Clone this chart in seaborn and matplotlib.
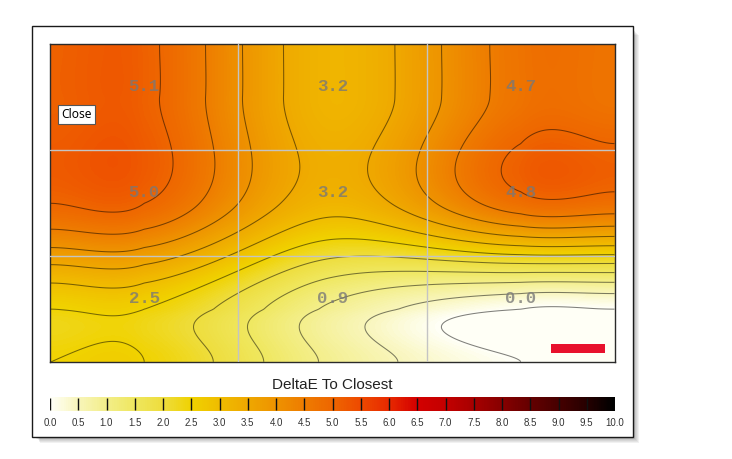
import numpy as np
import pandas as pd
import matplotlib
matplotlib.use("Agg")
import matplotlib.pyplot as plt
import seaborn as sns
from matplotlib.colors import LinearSegmentedColormap
from matplotlib.patches import Rectangle

# ---- data (3x3 uniformity grid) ----
row_top = [5.1, 3.2, 4.7]
row_middle = [5.0, 3.2, 4.8]
row_bottom = [2.5, 0.9, 0.0]
cbar_ticks = [0.0, 0.5, 1.0, 1.5, 2.0, 2.5, 3.0, 3.5, 4.0, 4.5, 5.0,
              5.5, 6.0, 6.5, 7.0, 7.5, 8.0, 8.5, 9.0, 9.5, 10.0]
cbar_colors = ["#FFFFF6", "#F8F5B8", "#F3EE88", "#EFE75E", "#EEDD3C", "#F0D200",
               "#F0BC00", "#EFA800", "#EE9300", "#EE7C00", "#EE6600", "#EE4A00",
               "#E82A00", "#D40000", "#C40000", "#A80000", "#880000", "#660000",
               "#480000", "#280000", "#000000"]
cbar_title = "DeltaE To Closest"
note_text = "Close"

vals = np.array([row_top, row_middle, row_bottom])
cmap = LinearSegmentedColormap.from_list("deltae", list(zip(np.array(cbar_ticks) / 10.0, cbar_colors)))

sns.set_style("white")
plt.rcParams["font.family"] = ["Liberation Sans", "DejaVu Sans"]

W_PX, H_PX = 732, 459
fig = plt.figure(figsize=(W_PX / 100, H_PX / 100), dpi=100)
fig.patch.set_facecolor("white")

# ---- outer frame with soft shadow ----
fx0, fy0, fx1, fy1 = 31.5, 26.0, 633.0, 437.0
for k in range(1, 8):
    fig.patches.append(Rectangle(((fx0 + 3 + k * 0.8) / W_PX, 1 - (fy1 + k * 0.8) / H_PX),
                                 (fx1 - fx0 - 3) / W_PX, (fy1 - fy0 - 3) / H_PX,
                                 transform=fig.transFigure, facecolor="#000000",
                                 alpha=0.055, edgecolor="none", zorder=-3))
fig.patches.append(Rectangle((fx0 / W_PX, 1 - fy1 / H_PX), (fx1 - fx0) / W_PX, (fy1 - fy0) / H_PX,
                             transform=fig.transFigure, facecolor="white",
                             edgecolor="#1a1a1a", linewidth=1.0, zorder=-2))

# ---- smooth surface: Catmull-Rom bicubic over grid padded to plot edges ----
def cr_weights(pos, t):
    n = len(pos)
    T = np.zeros((n, n))
    for i in range(n):
        T[i, min(i + 1, n - 1)] += 0.5
        T[i, max(i - 1, 0)] -= 0.5
    seg = np.clip(np.searchsorted(pos, t, side="right") - 1, 0, n - 2)
    u = (t - pos[seg]) / (pos[seg + 1] - pos[seg])
    h00 = 2 * u**3 - 3 * u**2 + 1
    h10 = u**3 - 2 * u**2 + u
    h01 = -2 * u**3 + 3 * u**2
    h11 = u**3 - u**2
    W = np.zeros((len(t), n))
    r = np.arange(len(t))
    W[r, seg] += h00
    W[r, seg + 1] += h01
    W += h10[:, None] * T[seg] + h11[:, None] * T[seg + 1]
    return W

ax_l, ax_r, ax_t, ax_b = 50.0, 615.0, 44.3, 362.3
nx, ny = int(ax_r - ax_l), int(round(ax_b - ax_t))
pos = np.array([0.0, 0.5, 1.5, 2.5, 3.0])
idx = [0, 0, 1, 2, 2]
V5 = vals[np.ix_(idx, idx)]
tx = (np.arange(nx) + 0.5) / nx * 3
ty = (np.arange(ny) + 0.5) / ny * 3
Z = cr_weights(pos, ty) @ V5 @ cr_weights(pos, tx).T

ax = fig.add_axes([ax_l / W_PX, 1 - ax_b / H_PX, (ax_r - ax_l) / W_PX, (ax_b - ax_t) / H_PX])
sns.heatmap(pd.DataFrame(Z), ax=ax, cmap=cmap, vmin=0, vmax=10, cbar=False,
            xticklabels=False, yticklabels=False)
Xc, Yc = np.meshgrid(np.arange(nx) + 0.5, np.arange(ny) + 0.5)
ax.contour(Xc, Yc, Z, levels=np.arange(0, 10.01, 0.5), colors="black",
           linewidths=0.75, alpha=0.5)
for k in (1, 2):
    ax.axvline(nx * k / 3, color="#C4C4C4", lw=1.0, zorder=3)
    ax.axhline(ny * k / 3, color="#C4C4C4", lw=1.0, zorder=3)
off = 10.6 * ny / (ax_b - ax_t)
for i in range(3):
    for j in range(3):
        ax.text(nx * (j + 0.5) / 3, ny * (i + 0.5) / 3 - off, f"{vals[i, j]:.1f}",
                ha="center", va="center", fontsize=12.5, fontweight="bold",
                family="Liberation Mono", color="#787878", alpha=0.78, zorder=4)
for s in ax.spines.values():
    s.set_visible(True)
    s.set_color("#2a2a2a")
    s.set_linewidth(1.0)

# note box and red marker
ax.text((76.3 - ax_l) / (ax_r - ax_l), 1 - (114.5 - ax_t) / (ax_b - ax_t), note_text,
        transform=ax.transAxes, ha="center", va="center", fontsize=8.6,
        family=["Noto Sans", "DejaVu Sans"], color="black", zorder=6,
        bbox=dict(boxstyle="square,pad=0.25", facecolor="white", edgecolor="#555555", linewidth=0.8))
ax.add_patch(Rectangle(((551 - ax_l) / (ax_r - ax_l), 1 - (352.7 - ax_t) / (ax_b - ax_t)),
                       54 / (ax_r - ax_l), 8.7 / (ax_b - ax_t), transform=ax.transAxes,
                       facecolor="#E8112D", edgecolor="none", zorder=5))

# ---- colour bar ----
cb_t, cb_b = 397.3, 410.7
cax = fig.add_axes([ax_l / W_PX, 1 - cb_b / H_PX, (ax_r - ax_l) / W_PX, (cb_b - cb_t) / H_PX])
cax.imshow(np.linspace(0, 10, 600)[None, :], aspect="auto", cmap=cmap, vmin=0, vmax=10,
           extent=[0, 10, 0, 1])
cax.vlines(cbar_ticks, 0.08, 0.93, color="#111111", lw=1.0)
cax.set_xlim(0, 10)
cax.set_ylim(0, 1)
cax.set_yticks([])
cax.set_xticks(cbar_ticks)
cax.set_xticklabels([f"{v:.1f}" for v in cbar_ticks])
cax.tick_params(axis="x", length=0, pad=5.5, labelsize=7, labelcolor="#333333")
for s in cax.spines.values():
    s.set_visible(False)
fig.text((ax_l + ax_r) / 2 / W_PX, 1 - 385 / H_PX, cbar_title, ha="center", va="center",
         fontsize=11, color="#222222")

fig.savefig("out.png", dpi=100)
